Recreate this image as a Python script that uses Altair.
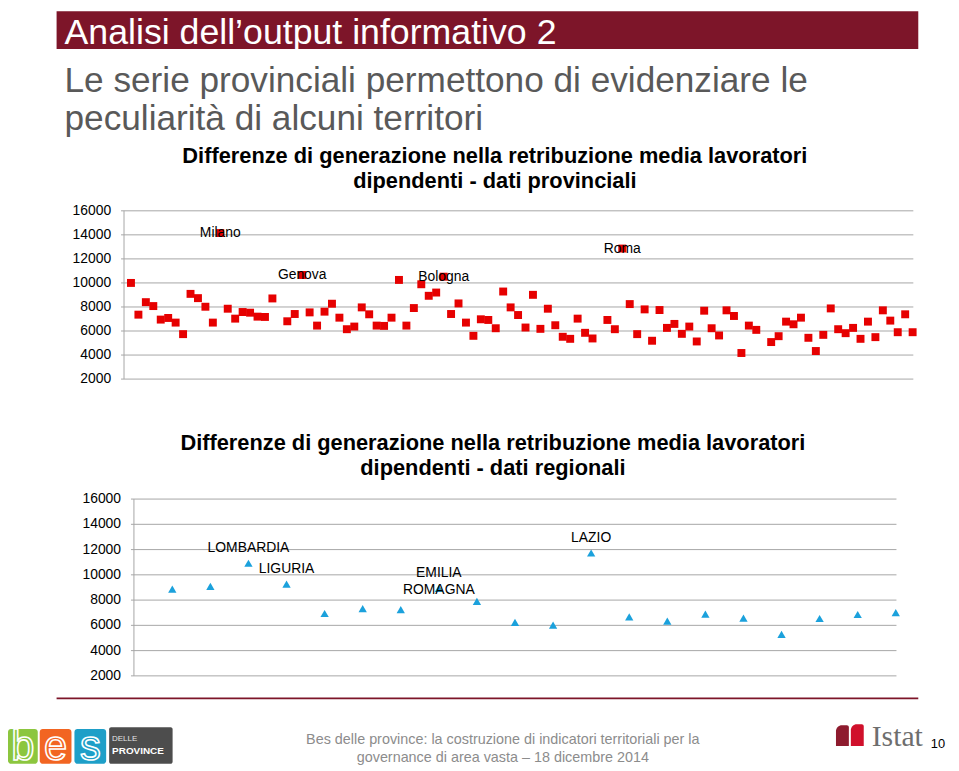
import altair as alt
import pandas as pd

# ---------------- data ----------------
PROV_VALUES = [10000, 7360, 8400, 8075, 6950, 7085, 6700, 5740, 9090, 8735,
               8020, 6700, 14150, 7855, 7030, 7580, 7525, 7195, 7170, 8710,
               None, 6810, 7415, 10660, 7550, 6450, 7610, 8270, 7110, 6150,
               6370, 7965, 7390, 6450, 6425, 7110, 10250, 6450, 7910, 9890,
               8930, 9200, 10520, 7415, 8295, 6700, 5600, 6975, 6920, 6230,
               9285, 7965, 7330, 6290, 9010, 6180, 7855, 6480, 5520, 5350,
               7030, 5850, 5380, None, 6920, 6150, 12860, 8240, 5740, 7800,
               5190, 7745, 6260, 6590, 5765, 6370, 5130, 7690, 6230, 5630,
               7720, 7250, 4170, 6450, 6095, None, 5080, 5570, 6780, 6560,
               7110, 5435, 4335, 5680, 7880, 6150, 5820, 6260, 5350, 6780,
               5490, 7720, 6865, 5900, 7390, 5900]
PROV_LABELS = {12: "Milano", 23: "Genova", 42: "Bologna", 66: "Roma"}

REG_VALUES = [8874, 9084, 10916, 9267, 6937, 7330, 7251, 8927, 7906, 6230,
              6020, 11730, 6675, 6335, 6885, 6570, 5290, 6545, 6860, 7015]
REG_LABELS = {2: "LOMBARDIA", 3: "LIGURIA", 7: "EMILIA\nROMAGNA", 11: "LAZIO"}

Y_TICKS = [2000, 4000, 6000, 8000, 10000, 12000, 14000, 16000]
Y_TICK_LABELS = [str(t) for t in Y_TICKS]

SLIDE_TITLE = "Analisi dell\u2019output informativo 2"
SUBTITLE = ["Le serie provinciali permettono di evidenziare le",
            "peculiarit\u00e0 di alcuni territori"]
CHART1_TITLE = ["Differenze di generazione nella retribuzione media lavoratori",
                "dipendenti - dati provinciali"]
CHART2_TITLE = ["Differenze di generazione nella retribuzione media lavoratori",
                "dipendenti - dati regionali"]
FOOTER = ["Bes delle province: la costruzione di indicatori territoriali per la",
          "governance di area vasta \u2013 18 dicembre 2014"]
PAGE_NUMBER = "10"

# ---------------- tables ----------------
prov_df = pd.DataFrame({"idx": list(range(len(PROV_VALUES))), "val": PROV_VALUES}).dropna()
prov_lab_df = pd.DataFrame({"idx": list(PROV_LABELS.keys()),
                            "val": [PROV_VALUES[i] for i in PROV_LABELS],
                            "lab": list(PROV_LABELS.values())})
reg_df = pd.DataFrame({"idx": list(range(len(REG_VALUES))), "val": REG_VALUES})
reg_lab_df = pd.DataFrame({"idx": list(REG_LABELS.keys()),
                           "val": [REG_VALUES[i] for i in REG_LABELS],
                           "lab": list(REG_LABELS.values())})
tick_df = pd.DataFrame({"t": Y_TICKS, "lab": Y_TICK_LABELS})
one = pd.DataFrame({"a": [1]})

FONT = "Liberation Sans"
GRID = "#A6A6A6"
MAROON = "#7D1529"

top_x = alt.Scale(domain=[-1, 105], range=[116.5, 912.3], nice=False, zero=False)
top_y = alt.Scale(domain=[2000, 16000], range=[371, 201.3], nice=False, zero=False)
bot_x = alt.Scale(domain=[-1, 19], range=[127.3, 895.3], nice=False, zero=False)
bot_y = alt.Scale(domain=[2000, 16000], range=[670.3, 492], nice=False, zero=False)


def txt(s, x, y, size, **kw):
    params = dict(font=FONT, fontSize=size)
    params.update(kw)
    return alt.Chart(one).mark_text(**params).encode(
        x=alt.value(x), y=alt.value(y), text=alt.value(s))


def rect(x, x2, y, y2, color, **kw):
    return alt.Chart(one).mark_rect(color=color, **kw).encode(
        x=alt.value(x), x2=alt.value(x2), y=alt.value(y), y2=alt.value(y2))


layers = []

# banner
layers.append(rect(49, 918, 0, 38, MAROON))
layers.append(txt(SLIDE_TITLE, 57, 33, 36, align="left", baseline="alphabetic", color="white"))
# subtitle
layers.append(txt(SUBTITLE[0], 57, 81, 35.5, align="left", baseline="alphabetic", color="#595959"))
layers.append(txt(SUBTITLE[1], 57, 120, 35.5, align="left", baseline="alphabetic", color="#595959"))


def panel(xs, ys, x_left, x_right, tick_x, title, title_x, title_y):
    out = []
    out.append(alt.Chart(tick_df).mark_rule(color=GRID, strokeWidth=1).encode(
        y=alt.Y("t:Q", scale=ys, axis=None), x=alt.value(x_left - 3), x2=alt.value(x_right)))
    out.append(alt.Chart(tick_df).mark_rule(color=GRID, strokeWidth=1).encode(
        y=alt.Y("min(t):Q", scale=ys, axis=None), y2=alt.Y2("max(t):Q"), x=alt.value(x_left)))
    out.append(alt.Chart(tick_df).mark_text(font=FONT, fontSize=14, align="right",
                                            baseline="middle", color="#000000").encode(
        y=alt.Y("t:Q", scale=ys, axis=None), x=alt.value(tick_x), text="lab:N"))
    out.append(txt(title[0], title_x, title_y, 22, fontWeight="bold", align="center",
                   baseline="middle", color="#000000"))
    out.append(txt(title[1], title_x, title_y + 25, 22, fontWeight="bold", align="center",
                   baseline="middle", color="#000000"))
    return out


layers += panel(top_x, top_y, 117, 913, 104, CHART1_TITLE, 491, 146)
layers += panel(bot_x, bot_y, 127, 896, 114, CHART2_TITLE, 489, 436)

# provincial points
layers.append(alt.Chart(prov_df).mark_square(size=64, color="#E60000", opacity=1).encode(
    x=alt.X("idx:Q", scale=top_x, axis=None), y=alt.Y("val:Q", scale=top_y, axis=None)))
layers.append(alt.Chart(prov_lab_df).mark_text(font=FONT, fontSize=14, align="center",
                                                baseline="middle", color="#000000").encode(
    x=alt.X("idx:Q", scale=top_x, axis=None), y=alt.Y("val:Q", scale=top_y, axis=None),
    text="lab:N"))

# regional points
layers.append(alt.Chart(reg_df).mark_point(shape="triangle-up", filled=True, size=70,
                                           color="#1BA1DC", opacity=1).encode(
    x=alt.X("idx:Q", scale=bot_x, axis=None), y=alt.Y("val:Q", scale=bot_y, axis=None)))
layers.append(alt.Chart(reg_lab_df).mark_text(font=FONT, fontSize=14, align="center",
                                               baseline="bottom", dy=-8, lineBreak="\n",
                                               lineHeight=17, color="#000000").encode(
    x=alt.X("idx:Q", scale=bot_x, axis=None), y=alt.Y("val:Q", scale=bot_y, axis=None),
    text="lab:N"))

# footer line
layers.append(rect(49, 918, 692, 694, MAROON))

# bes logo
layers.append(rect(0, 30, 724, 759, "#8CC63F", cornerRadius=3))
layers.append(rect(32, 64, 724, 759, "#F26522", cornerRadius=3))
layers.append(rect(67, 99, 724, 759, "#1E9FC8", cornerRadius=3))
layers.append(rect(102, 166, 722, 759, "#4D4D4D", cornerRadius=2))
for letter, cx in (("b", 15), ("e", 48), ("s", 83)):
    layers.append(txt(letter, cx, 755, 42, align="center", baseline="alphabetic",
                      fillOpacity=0, stroke="white", strokeWidth=1.6))
layers.append(txt("DELLE", 105, 734, 8, align="left", baseline="middle", color="#E6E6E6"))
layers.append(txt("PROVINCE", 105, 746, 10, fontWeight="bold", align="left",
                  baseline="middle", color="white"))

# footer text
layers.append(txt(FOOTER[0], 499, 735, 14.5, align="center", baseline="middle",
                  color="#8C8C8C"))
layers.append(txt(FOOTER[1], 499, 753, 14.5, align="center", baseline="middle",
                  color="#8C8C8C"))

# istat logo
layers.append(rect(835, 848, 720, 741, "#8E1B2E", cornerRadiusTopLeft=6, cornerRadiusTopRight=2))
layers.append(rect(850, 863, 719, 741, "#D0102B", cornerRadiusTopLeft=6, cornerRadiusTopRight=2))
layers.append(txt("Istat", 871, 741, 30, font="Liberation Serif", align="left",
                  baseline="alphabetic", color="#6E6E6E"))
layers.append(txt(PAGE_NUMBER, 945, 739, 13, align="right", baseline="middle", color="#000000"))

chart = alt.layer(*layers).resolve_scale(x="independent", y="independent").properties(
    width=951, height=763, padding=0, autosize=alt.AutoSizeParams(type="none")
).configure_view(stroke=None)

chart.save("out.html", embed_options={"renderer": "svg", "actions": False})
